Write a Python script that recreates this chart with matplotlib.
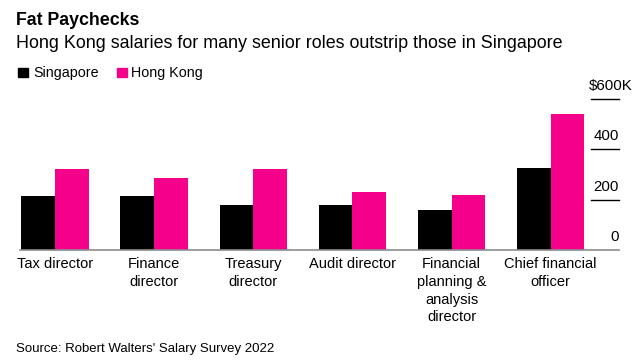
import matplotlib.pyplot as plt
from matplotlib.patches import Rectangle
import numpy as np

plt.rcParams['font.family'] = ['Liberation Sans', 'DejaVu Sans']

roles = ['Tax director', 'Finance\ndirector', 'Treasury\ndirector', 'Audit director',
         'Financial\nplanning &\nanalysis\ndirector', 'Chief financial\nofficer']
singapore = [215, 215, 180, 180, 160, 325]
hong_kong = [320, 285, 320, 230, 220, 540]
y_ticks = [0, 200, 400, 600]
y_tick_labels = ['0', '200', '400', '$600K']

BLACK = '#000000'
PINK = '#f5008b'

W, H = 642, 364
fig = plt.figure(figsize=(W / 100, H / 100), dpi=100)


def fx(px):
    return px / W


def fy(py):
    # pixel row from top -> figure fraction
    return 1 - py / H


# axes placed in pixel coords: x 20..619, y 99..250 (from top)
ax = fig.add_axes([fx(20), fy(250), fx(599), 151 / H])

x = np.arange(len(roles))
bw = 0.34
ax.bar(x - bw / 2, singapore, bw, color=BLACK)
ax.bar(x + bw / 2, hong_kong, bw, color=PINK)

ax.set_xlim(-0.354, 5.69)
ax.set_ylim(0, 600)

for s in ['top', 'right', 'left']:
    ax.spines[s].set_visible(False)
ax.spines['bottom'].set_color('#8c8c8c')
ax.spines['bottom'].set_linewidth(1.2)
ax.set_yticks([])

ax.set_xticks(x)
ax.set_xticklabels(roles, fontsize=10.5, linespacing=1.35, va='top', ha='center')
ax.tick_params(axis='x', length=0, pad=5)

# short tick lines on the right with labels above
for v, lab in zip(y_ticks, y_tick_labels):
    if v > 0:
        ax.axhline(v, xmin=(591 - 20) / 599, xmax=1, color=BLACK, lw=1, clip_on=False)
    xr = 1.0 if lab != '$600K' else (633 - 20) / 599
    ax.annotate(lab, xy=(xr, v), xycoords=('axes fraction', 'data'),
                xytext=(0, 6), textcoords='offset pixels',
                ha='right', va='bottom', fontsize=10.8, annotation_clip=False)

fig.text(fx(16), fy(25), 'Fat Paychecks', fontsize=12.8, fontweight='bold',
         ha='left', va='baseline')
fig.text(fx(16), fy(47.5), 'Hong Kong salaries for many senior roles outstrip those in Singapore',
         fontsize=12.9, ha='left', va='baseline')

# legend
for sx, tx, col, name in [(18, 33, BLACK, 'Singapore'), (117, 131, PINK, 'Hong Kong')]:
    fig.add_artist(Rectangle((fx(sx), fy(77)), fx(9.5), 9.5 / H, color=col,
                             transform=fig.transFigure))
    fig.text(fx(tx), fy(77), name, fontsize=10.3, ha='left', va='baseline')

fig.text(fx(16), fy(352), "Source: Robert Walters' Salary Survey 2022",
         fontsize=9.5, ha='left', va='baseline')

fig.savefig('out.png', dpi=100)
